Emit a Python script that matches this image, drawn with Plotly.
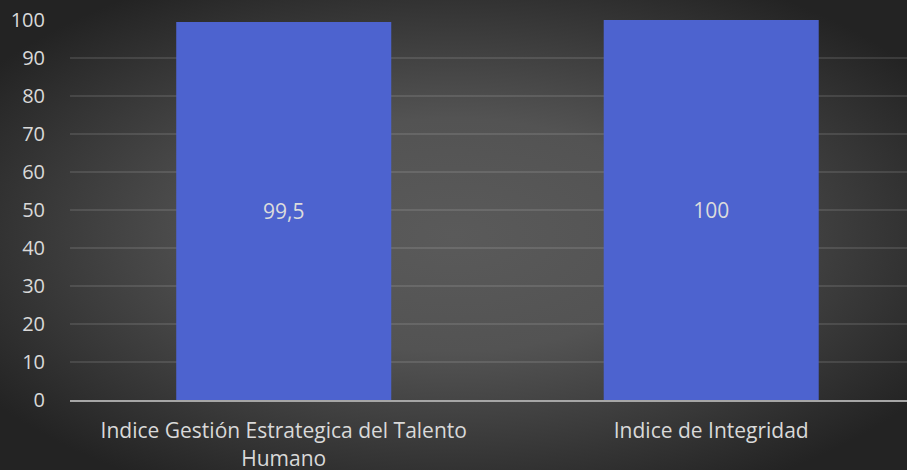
import base64
import plotly.graph_objects as go

categories = ["Indice Gestión Estrategica del Talento<br>Humano", "Indice de Integridad"]
values = [99.5, 100]
y_ticks = [0, 10, 20, 30, 40, 50, 60, 70, 80, 90, 100]

W, H = 907, 470
ML, MR, MT, MB = 70, 0, 20, 70
PW, PH = W - ML - MR, H - MT - MB
FONT = "Open Sans, sans-serif"

bg_svg = f'''<svg xmlns="http://www.w3.org/2000/svg" width="{W}" height="{H}" viewBox="0 0 {W} {H}" preserveAspectRatio="none">
<defs><radialGradient id="g" cx="50%" cy="50%" r="62%" fx="50%" fy="50%">
<stop offset="0%" stop-color="#5a5a5a"/><stop offset="40%" stop-color="#535353"/><stop offset="100%" stop-color="#232323"/>
</radialGradient></defs><rect width="{W}" height="{H}" fill="url(#g)"/></svg>'''
bg_src = "data:image/svg+xml;base64," + base64.b64encode(bg_svg.encode()).decode()

fig = go.Figure()
fig.add_trace(go.Bar(
    x=categories, y=values,
    marker=dict(color="#4d63cf", line=dict(width=0)),
    texttemplate="%{y}", textposition="inside", insidetextanchor="middle",
    textfont=dict(family=FONT, size=21, color="#dcdcdc"),
    textangle=0,
))

fig.add_layout_image(dict(
    source=bg_src, xref="paper", yref="paper",
    x=-ML / PW, y=1 + MT / PH, sizex=W / PW, sizey=H / PH,
    xanchor="left", yanchor="top", sizing="stretch", layer="below",
))

fig.update_layout(
    width=W, height=H,
    margin=dict(l=ML, r=MR, t=MT, b=MB, pad=0),
    paper_bgcolor="#3a3a3a", plot_bgcolor="rgba(0,0,0,0)",
    separators=",.",
    bargap=0.497,
    showlegend=False,
    font=dict(family=FONT, color="#d9d9d9", size=20),
)
fig.update_xaxes(
    range=[-0.5, 1.458], showgrid=False, showline=True, linecolor="#a6a6a6", linewidth=2,
    ticks="", tickfont=dict(family=FONT, size=21, color="#d9d9d9"), ticklabelstandoff=11,
    automargin=False,
)
fig.update_yaxes(
    range=[0, 100], tickvals=y_ticks, showgrid=True, gridcolor="rgba(255,255,255,0.11)", gridwidth=1.5,
    zeroline=False, showline=False, ticks="", tickfont=dict(family=FONT, size=20, color="#d9d9d9"),
    ticklabelstandoff=24, automargin=False,
)
fig.write_html(
    "out.html",
    config={"displayModeBar": False},
    post_script="document.body.style.margin='0';document.body.style.overflow='hidden';",
)
